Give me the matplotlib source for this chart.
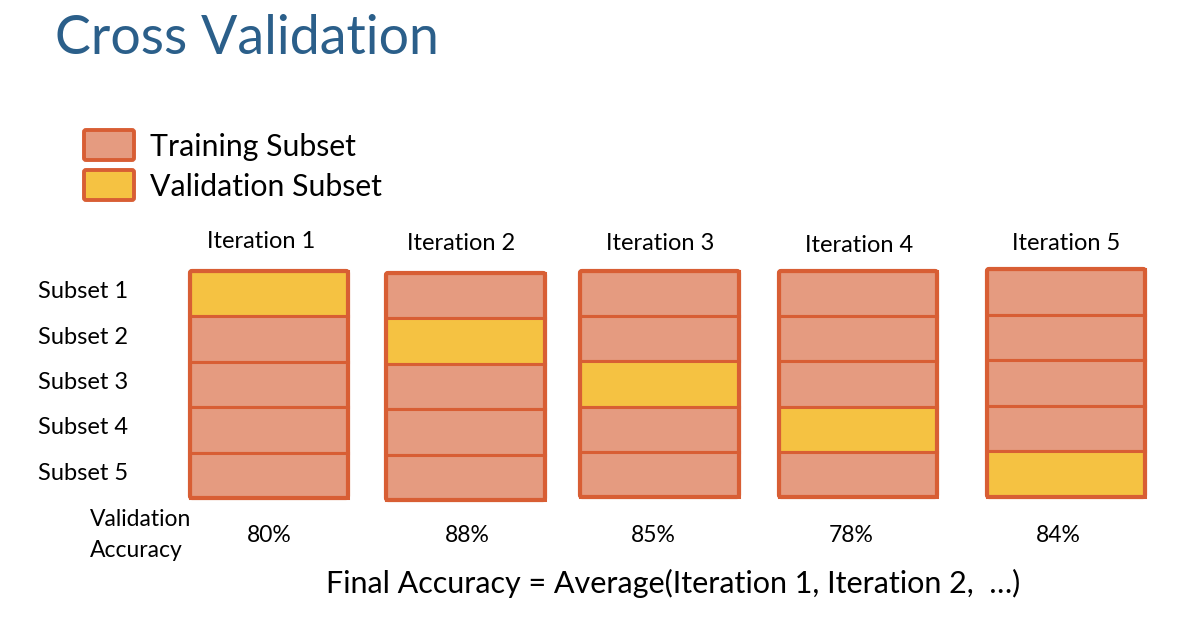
import matplotlib
matplotlib.use("Agg")
import matplotlib.pyplot as plt
from matplotlib.patches import FancyBboxPatch

plt.rcParams['font.family'] = ['Lato', 'DejaVu Sans']

# ---- data ----
title = "Cross Validation"
legend_labels = ["Training Subset", "Validation Subset"]
iterations = ["Iteration 1", "Iteration 2", "Iteration 3", "Iteration 4", "Iteration 5"]
subsets = ["Subset 1", "Subset 2", "Subset 3", "Subset 4", "Subset 5"]
validation_fold = [0, 1, 2, 3, 4]          # index of the validation subset per iteration
accuracy = [80, 88, 85, 78, 84]            # validation accuracy (%)
accuracy_label = "Validation\nAccuracy"
final_text = "Final Accuracy = Average(Iteration 1, Iteration 2,  \u2026)"

# ---- style ----
train_col = '#E59B80'
valid_col = '#F5C242'
edge_col = '#D85E34'
title_col = '#2B5F8A'

# ---- layout (pixels) ----
box_left = [190, 386, 580, 779, 987]
box_right = [348, 545, 739, 937, 1145]
box_top = [271, 273, 271, 271, 269]
box_bottom = [498, 500, 497, 497, 497]
iter_label_x = [261, 461, 660, 859, 1066]
iter_label_y = [242, 243, 243, 245, 243]
acc_x = [269, 467, 653, 851, 1058]

fig = plt.figure(figsize=(12, 6.32), dpi=100)
ax = fig.add_axes([0, 0, 1, 1])
ax.set_xlim(0, 1200)
ax.set_ylim(632, 0)
ax.axis('off')

# title
ax.text(55, 38, title, fontsize=38.7, color=title_col, ha='left', va='center')

# legend
for i, (lab, col) in enumerate(zip(legend_labels, [train_col, valid_col])):
    y0 = 130 + i * 40
    ax.add_patch(FancyBboxPatch((84, y0), 50, 30, boxstyle="round,pad=0,rounding_size=2",
                                facecolor=col, edgecolor=edge_col, linewidth=2.8))
    ax.text(150, y0 + 17, lab, fontsize=21.8, ha='left', va='center', color='black')

# boxes
n = len(subsets)
for k, it in enumerate(iterations):
    left, right = box_left[k], box_right[k]
    top, bot = box_top[k], box_bottom[k]
    h = (bot - top) / n
    cols = [valid_col if s == validation_fold[k] else train_col for s in range(n)]
    ax.bar([left] * n, [h] * n, width=right - left,
           bottom=[top + s * h for s in range(n)], align='edge',
           color=cols, edgecolor=edge_col, linewidth=2.2)
    ax.add_patch(FancyBboxPatch((left, top), right - left, bot - top,
                                boxstyle="round,pad=0,rounding_size=2",
                                facecolor='none', edgecolor=edge_col, linewidth=3))
    ax.text(iter_label_x[k], iter_label_y[k], it, fontsize=17, ha='center', va='center')
    ax.text(acc_x[k], 535, f"{accuracy[k]}%", fontsize=16.5, ha='center', va='center')

# subset labels
h0 = (box_bottom[0] - box_top[0]) / n
for s, lab in enumerate(subsets):
    ax.text(38, box_top[0] + (s + 0.5) * h0 - 2, lab, fontsize=17, ha='left', va='center')

ax.text(90, 535, accuracy_label, fontsize=16.5, ha='left', va='center', linespacing=1.6)

ax.text(673, 583, final_text, fontsize=22, ha='center', va='center')

fig.savefig("out.png", dpi=100)
